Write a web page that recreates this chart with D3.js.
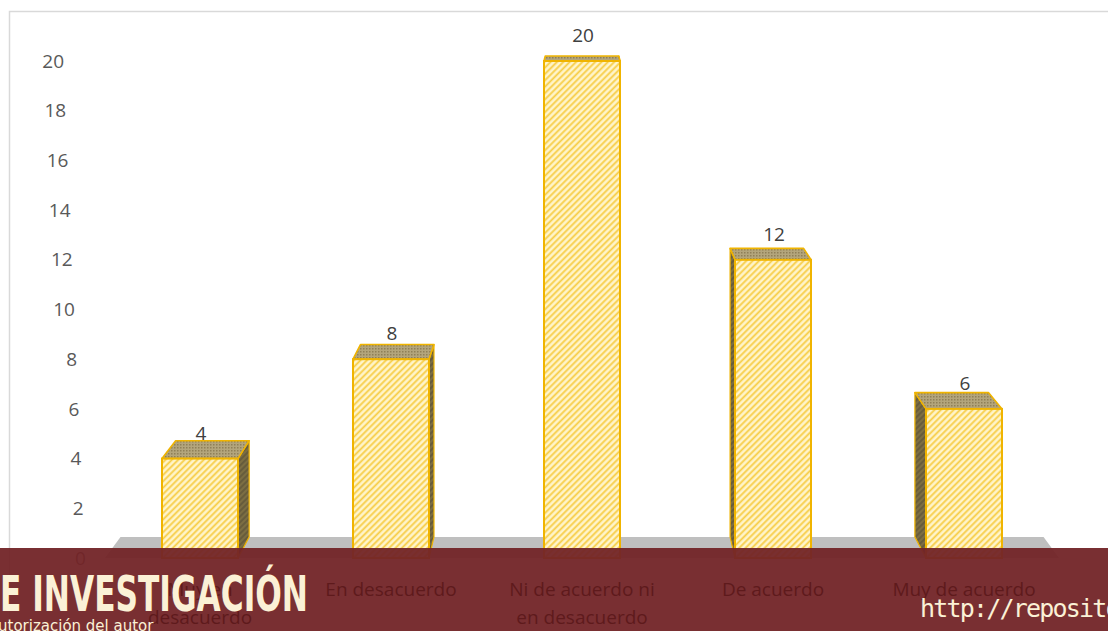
<!DOCTYPE html>
<html>
<head>
<meta charset="utf-8">
<script src="https://cdn.jsdelivr.net/npm/d3@7"></script>
<style>
  html, body { margin: 0; padding: 0; background: #fff; overflow: hidden; }
  svg { display: block; }
  .tick-label { font-family: "Open Sans", Lato, sans-serif; font-size: 19px; fill: #595959; }
  .cat-label { font-family: "Open Sans", Lato, sans-serif; font-size: 19px; fill: #5e1a1c; }
  .val-label { font-family: "Open Sans", Lato, sans-serif; font-size: 19px; fill: #404040; }
</style>
</head>
<body>
<div id="chart"></div>
<script>
// --- DATA ---
const categories = ["Muy en desacuerdo", "En desacuerdo", "Ni de acuerdo ni en desacuerdo", "De acuerdo", "Muy de acuerdo"];
const categoryLines = [["Muy en", "desacuerdo"], ["En desacuerdo"], ["Ni de acuerdo ni", "en desacuerdo"], ["De acuerdo"], ["Muy de acuerdo"]];
const values = [4, 8, 20, 12, 6];
const yTicks = [0, 2, 4, 6, 8, 10, 12, 14, 16, 18, 20];

(function () {
    'use strict';

    const W = 1108, H = 631;

    const svg = d3.select("#chart").append("svg")
        .attr("width", W).attr("height", H);

    // perspective: back face is pulled toward a vanishing point
    const vp = { x: 583, y: -94 };
    const depth = 0.0324;
    const back = (x, y) => [x + depth * (vp.x - x), y + depth * (vp.y - y)];

    // --- SCALES ---
    const y = d3.scaleLinear().domain([0, 20]).range([558, 61]);
    const x = d3.scalePoint().domain(categories).range([200, 964]);
    const barW = 76;

    // --- PATTERNS ---
    const defs = svg.append("defs");

    const front = defs.append("pattern")
        .attr("id", "hatch-front").attr("patternUnits", "userSpaceOnUse")
        .attr("width", 4.5).attr("height", 4.5)
        .attr("patternTransform", "rotate(45)");
    front.append("rect").attr("width", 4.5).attr("height", 4.5).attr("fill", "#fff5cc");
    front.append("line").attr("x1", 1.2).attr("x2", 1.2).attr("y1", 0).attr("y2", 4.5)
        .attr("stroke", "#f7cd45").attr("stroke-width", 1.8);

    const side = defs.append("pattern")
        .attr("id", "hatch-side").attr("patternUnits", "userSpaceOnUse")
        .attr("width", 4).attr("height", 4)
        .attr("patternTransform", "rotate(45)");
    side.append("rect").attr("width", 4).attr("height", 4).attr("fill", "#675c3c");
    side.append("line").attr("x1", 1).attr("x2", 1).attr("y1", 0).attr("y2", 4)
        .attr("stroke", "#857646").attr("stroke-width", 1.4);

    const top = defs.append("pattern")
        .attr("id", "dots-top").attr("patternUnits", "userSpaceOnUse")
        .attr("width", 3).attr("height", 3);
    top.append("rect").attr("width", 3).attr("height", 3).attr("fill", "#b3a57c");
    top.append("rect").attr("width", 1.5).attr("height", 1.5).attr("fill", "#8f8058");

    // chart border
    svg.append("rect")
        .attr("x", 9.5).attr("y", 11.5).attr("width", W + 20).attr("height", H + 20)
        .attr("fill", "none").attr("stroke", "#d9d9d9").attr("stroke-width", 1.5);

    // --- FLOOR ---
    const y0 = y(0);
    const fl = [105, 1059];
    const floorPts = [[fl[0], y0], [fl[1], y0], back(fl[1], y0), back(fl[0], y0)];
    svg.append("polygon")
        .attr("points", floorPts.map(p => p.join(",")).join(" "))
        .attr("fill", "#bfbfbf");

    // --- Y AXIS LABELS (slanted with the perspective) ---
    svg.selectAll(".tick-label").data(yTicks).enter().append("text")
        .attr("class", "tick-label")
        .attr("text-anchor", "end")
        .attr("x", d => 64 + 0.044 * (y(d) - y(20)))
        .attr("y", d => y(d))
        .attr("dy", "0.35em")
        .text(d => d);

    // --- BARS ---
    const bars = svg.selectAll(".bar").data(values).enter().append("g").attr("class", "bar");
    const pts = a => a.map(p => p.join(",")).join(" ");

    bars.each(function (v, i) {
        const g = d3.select(this);
        const cx = x(categories[i]);
        const x0 = cx - barW / 2, x1 = cx + barW / 2;
        const yt = y(v), yb = y(0);

        // side face
        const sx = cx < vp.x ? x1 : x0;
        g.append("polygon")
            .attr("points", pts([[sx, yt], [sx, yb], back(sx, yb), back(sx, yt)]))
            .attr("fill", "url(#hatch-side)")
            .attr("stroke", "#f0b400").attr("stroke-width", 1.2).attr("stroke-linejoin", "round");

        // top face
        g.append("polygon")
            .attr("points", pts([[x0, yt], [x1, yt], back(x1, yt), back(x0, yt)]))
            .attr("fill", "url(#dots-top)")
            .attr("stroke", "#f0b400").attr("stroke-width", 1.6).attr("stroke-linejoin", "round");

        // front face
        g.append("rect")
            .attr("x", x0).attr("y", yt).attr("width", barW).attr("height", yb - yt)
            .attr("fill", "url(#hatch-front)")
            .attr("stroke", "#f0b400").attr("stroke-width", 2);

        // value label
        g.append("text")
            .attr("class", "val-label")
            .attr("text-anchor", "middle")
            .attr("x", cx + 1)
            .attr("y", yt - 19)
            .text(v);
    });

    // --- WATERMARK BANNER ---
    svg.append("rect")
        .attr("x", 0).attr("y", 548).attr("width", W).attr("height", H - 548)
        .attr("fill", "#722427").attr("opacity", 0.95);

    // --- CATEGORY LABELS (seen through the banner) ---
    svg.selectAll(".cat-label").data(categories).enter().append("text")
        .attr("class", "cat-label")
        .attr("text-anchor", "middle")
        .attr("x", d => x(d))
        .attr("y", 596)
        .each(function (d, i) {
            d3.select(this).selectAll("tspan").data(categoryLines[i]).enter().append("tspan")
                .attr("x", x(d))
                .attr("dy", (t, j) => j === 0 ? 0 : 28)
                .text(t => t);
        });

    svg.append("text")
        .attr("x", 0).attr("y", 611)
        .attr("textLength", 308).attr("lengthAdjust", "spacingAndGlyphs")
        .style("font-family", "'DejaVu Sans', sans-serif")
        .style("font-weight", "bold")
        .style("font-size", "49px")
        .style("fill", "#fbf1d6")
        .text("E INVESTIGACIÓN");

    svg.append("text")
        .attr("x", -2).attr("y", 631)
        .style("font-family", "'DejaVu Sans', sans-serif")
        .style("font-size", "15px")
        .style("fill", "#fbf1d6")
        .text("utorización del autor");

    svg.append("text")
        .attr("x", 920).attr("y", 617)
        .style("font-family", "'DejaVu Sans Mono', monospace")
        .style("font-size", "25px")
        .style("letter-spacing", "-1.8px")
        .style("fill", "#fbf1d6")
        .text("http://repositorio");
})();
</script>
</body>
</html>
